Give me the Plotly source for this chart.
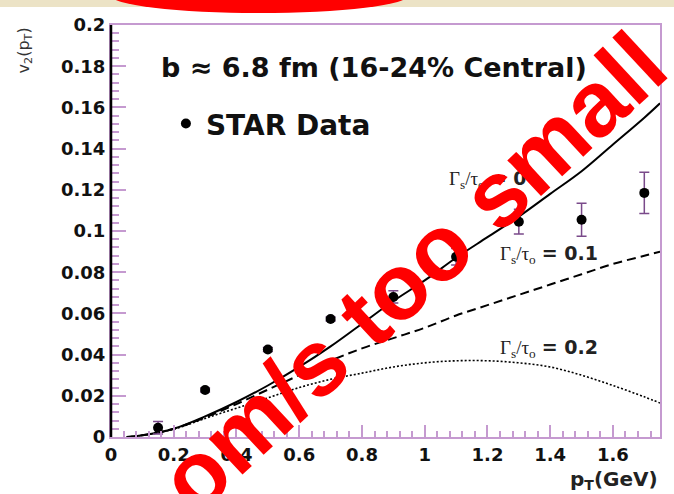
import plotly.graph_objects as go

# ---- data ----
star_pt = [0.15, 0.30, 0.50, 0.70, 0.90, 1.10, 1.30, 1.50, 1.70]
star_v2 = [0.0045, 0.0228, 0.0425, 0.0573, 0.0680, 0.0875, 0.1045, 0.1055, 0.1185]
star_err = [0.003, 0.001, 0.001, 0.001, 0.003, 0.004, 0.006, 0.008, 0.010]

curve_pt = [0.05, 0.10, 0.20, 0.30, 0.40, 0.50, 0.60, 0.70, 0.80, 0.90, 1.00,
            1.10, 1.20, 1.30, 1.40, 1.50, 1.60, 1.70, 1.75]
v2_g0 = [0.0, 0.0008, 0.0040, 0.0100, 0.0170, 0.0250, 0.0340, 0.0440, 0.0550,
         0.0660, 0.0760, 0.0870, 0.0970, 0.1070, 0.1180, 0.1290, 0.1420, 0.1550, 0.1620]
v2_g01 = [0.0, 0.0008, 0.0040, 0.0095, 0.0160, 0.0230, 0.0300, 0.0370, 0.0430,
          0.0480, 0.0530, 0.0590, 0.0640, 0.0690, 0.0740, 0.0790, 0.0840, 0.0880, 0.0900]
v2_g02 = [0.0, 0.0008, 0.0038, 0.0090, 0.0140, 0.0190, 0.0240, 0.0280, 0.0310,
          0.0340, 0.0360, 0.0370, 0.0370, 0.0360, 0.0340, 0.0300, 0.0250, 0.0195, 0.0165]

x_range = [0, 1.75]
y_range = [0, 0.2]

PURPLE = "#c59ad0"
SANS = "DejaVu Sans"

fig = go.Figure()

fig.add_trace(go.Scatter(x=curve_pt, y=v2_g0, mode="lines", line=dict(color="black", width=2, shape="spline"),
                         showlegend=False, hoverinfo="skip"))
fig.add_trace(go.Scatter(x=curve_pt, y=v2_g01, mode="lines",
                         line=dict(color="black", width=2, dash="9px,5px", shape="spline"),
                         showlegend=False, hoverinfo="skip"))
fig.add_trace(go.Scatter(x=curve_pt, y=v2_g02, mode="lines",
                         line=dict(color="black", width=1.6, dash="2px,2px", shape="spline"),
                         showlegend=False, hoverinfo="skip"))
fig.add_trace(go.Scatter(x=star_pt, y=star_v2, mode="markers", name="STAR Data",
                         marker=dict(color="black", size=10),
                         error_y=dict(type="data", array=star_err, color="#7a4a8a", thickness=1.5, width=5)))

fig.update_layout(
    width=674, height=494,
    margin=dict(l=111, r=12, t=25, b=57),
    paper_bgcolor="white", plot_bgcolor="white",
    font=dict(family=SANS, color="#111111"),
    legend=dict(x=0.100, y=0.76, xanchor="left", yanchor="middle", bgcolor="rgba(0,0,0,0)",
                font=dict(family=SANS, size=28, weight="bold", color="#111111")),
    xaxis=dict(range=x_range, showgrid=False, zeroline=False, showline=True, linecolor=PURPLE,
               linewidth=2, mirror=True, ticks="inside", ticklen=12, tickwidth=1.5, tickcolor=PURPLE,
               dtick=0.2, tick0=0, tickfont=dict(family=SANS, size=18, weight="bold", color="#111111"),
               minor=dict(ticks="inside", ticklen=6, dtick=0.04, tickcolor=PURPLE, tickwidth=1.5)),
    yaxis=dict(range=y_range, showgrid=False, zeroline=False, showline=True, linecolor=PURPLE,
               linewidth=2, mirror=True, ticks="inside", ticklen=15, tickwidth=1.5, tickcolor=PURPLE,
               dtick=0.02, tick0=0, tickfont=dict(family=SANS, size=18, weight="bold", color="#111111"),
               minor=dict(ticks="inside", ticklen=8, dtick=0.004, tickcolor=PURPLE, tickwidth=1.5)),
)

# left axis line in black
fig.add_shape(type="line", xref="paper", yref="paper", x0=0, x1=0, y0=0, y1=1,
              line=dict(color="black", width=2.5), layer="above")

# beige strip across the top of the picture
fig.add_shape(type="rect", xref="paper", yref="paper", x0=-0.21, x1=1.03, y0=1.0437, y1=1.08,
              fillcolor="#ece3c6", line=dict(width=0), layer="above")
# red oval peeking in at the top
fig.add_shape(type="circle", xref="paper", yref="paper", x0=-0.0018, x1=0.5426, y0=1.0291, y1=1.1165,
              fillcolor="#ff0000", line=dict(width=0), layer="above")

serif = "Liberation Serif"
def glabel(val):
    return (f'<span style="font-family:{serif}">Γ<sub>s</sub>/τ<sub>o</sub></span>'
            f' <b>= {val}</b>')

annotations = [
    dict(text="b ≈ 6.8 fm (16-24% Central)", xref="paper", yref="paper", x=0.087, y=0.896,
         xanchor="left", yanchor="middle", showarrow=False,
         font=dict(family=SANS, size=27, weight="bold", color="#111111")),
    dict(text=glabel("0"), xref="x", yref="y", x=1.072, y=0.1252, xanchor="left", yanchor="middle",
         showarrow=False, font=dict(family=SANS, size=19, color="#222222")),
    dict(text=glabel("0.1"), xref="x", yref="y", x=1.235, y=0.0884, xanchor="left", yanchor="middle",
         showarrow=False, font=dict(family=SANS, size=19, color="#222222")),
    dict(text=glabel("0.2"), xref="x", yref="y", x=1.235, y=0.0432, xanchor="left", yanchor="middle",
         showarrow=False, font=dict(family=SANS, size=19, color="#222222")),
    dict(text="p<sub>T</sub>(GeV)", xref="paper", yref="paper", x=1.0, y=-0.104,
         xanchor="right", yanchor="middle", showarrow=False,
         font=dict(family=SANS, size=20, weight="bold", color="#222222")),
    dict(text="v<sub>2</sub>(p<sub>T</sub>)", xref="paper", yref="paper", x=-0.158, y=0.939,
         xanchor="center", yanchor="middle", textangle=-90, showarrow=False,
         font=dict(family=SANS, size=16, color="#333333")),
    dict(text="om/s too small", xref="paper", yref="paper", x=0.550, y=0.400,
         xanchor="center", yanchor="middle", textangle=-43, showarrow=False,
         font=dict(family="Liberation Sans", size=93, weight="bold", color="#ff0000")),
]
fig.update_layout(annotations=annotations)

fig.write_html("out.html")
